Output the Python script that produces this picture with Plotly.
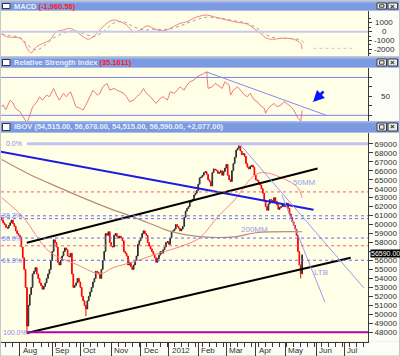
import plotly.graph_objects as go

W, H = 400, 356
def px(x): return x / W
def py(y): return 1 - y / H

# ---------------- data ----------------
CLOSE = [
    60500, 60200, 60000, 59700, 59600, 59900, 60200, 60500, 60100, 59800,
    59300, 59000, 58800, 58600, 57500, 56300, 55000, 53000, 48700, 51000,
    52200, 53000, 54500, 54800, 55200, 54500, 54000, 53500, 53200, 52800,
    53100, 53500, 54000, 54500, 55000, 56000, 57000, 58300, 58000, 57500,
    55800, 55500, 56000, 56500, 57000, 57400, 57200, 56500, 56400, 56800,
    54500, 53000, 53200, 53500, 54000, 53600, 53000, 52000, 51500, 51000,
    50600, 51500, 52000, 52500, 53000, 53600, 54000, 54800, 54700, 54500,
    54000, 55000, 56000, 57000, 59000, 58800, 59200, 58000, 57600, 57500,
    58800, 59000, 58700, 58500, 58700, 58500, 58200, 57000, 56800, 56500,
    55500, 55800, 55300, 55000, 55500, 56000, 56500, 57800, 58200, 58500,
    59000, 59300, 59000, 58800, 58000, 57600, 57300, 57000, 56700, 56300,
    55800, 56200, 56600, 57000, 56800, 57200, 57500, 58000, 58100, 57800,
    58500, 59200, 59300, 59500, 60000, 59800, 59600, 59300, 59500, 59800,
    60800, 61500, 61800, 62000, 62500, 62600, 62800, 63300, 63500, 63800,
    64500, 65200, 65300, 65500, 65800, 65900, 65600, 65000, 64800, 64300,
    65800, 66200, 66100, 66000, 65700, 65800, 66000, 65500, 65900, 66300,
    66700, 65500, 65000, 64800, 66000, 66800, 67500, 68300, 68500, 68700,
    68200, 67800, 67900, 67600, 66800, 66400, 66200, 66500, 66600, 66400,
    65500, 65000, 64900, 64700, 64400, 64000, 63500, 62600, 62000, 61600,
    62300, 62800, 62700, 62500, 63000, 62600, 62200, 61700, 61900, 62000,
    62300, 62000, 62100, 62400, 61800, 61200, 60800, 60300, 59900, 59500,
    58800, 57000, 55500, 54515, 56590,
]
FIRST_OPEN = 60800
WICK_HIGH = {169: 68970, 214: 56678}
WICK_LOW = {18: 48000, 60: 49800, 213: 54000}

MA50_DAY = [0, 15, 34, 54, 70, 79, 94, 113, 127, 141, 154, 166, 179, 186, 199, 211, 214]
MA50_VAL = [63000, 60880, 56970, 55520, 54510, 55180, 55850, 56860, 57530, 58530,
            60880, 62780, 65350, 65800, 65240, 64120, 63000]
MA200_DAY = [0, 20, 41, 61, 77, 91, 106, 119, 143, 166, 181, 214]
MA200_VAL = [67250, 65580, 64120, 62780, 61780, 61000, 60100, 59300, 58640, 58640, 59090, 59200]

MACD_DAY = [0, 3.4, 8, 13, 16.4, 18.8, 21, 24.8, 29.5, 34.3, 39, 43.8, 48.6, 53.4, 58, 61.6,
            65.2, 70, 74.8, 79.5, 84.3, 89, 93.8, 98.6, 103.4, 108, 112.9, 117.6, 122.4, 127,
            132, 136.6, 141.4, 146.2, 151, 155.7, 160.5, 165.2, 170, 174.8, 179.5, 184.3, 189,
            193.8, 198.6, 203.4, 208, 212.9, 214]
MACD_VAL = [-180, -570, -640, -750, -1320, -2080, -2390, -1700, -1320, -940, 0, 190, 390, 0,
            -570, -860, -570, 190, 950, 1330, 1140, 760, 0, 190, 650, 390, 110, 190, 570, 950,
            1140, 1520, 1780, 1900, 1700, 1520, 1330, 1140, 1020, 875, 390, -180, -750, -860,
            -750, -750, -860, -1320, -1961]
SIG_DAY = [0, 5.7, 12.9, 20, 24.8, 29.5, 36.7, 43.8, 51, 58, 65.2, 72.4, 79.5, 86.6, 93.8,
           101, 108, 117.6, 127, 136.6, 146, 155.7, 165.2, 174.8, 182, 189, 196, 203.4, 212.9, 215]
SIG_VAL = [-300, -450, -650, -1700, -2080, -1700, -750, -180, 110, -180, -570, 0, 950, 1140,
           570, 190, 270, 270, 650, 1250, 1640, 1520, 1250, 950, 390, -375, -750, -750, -940, -1250]
SIG_PROJ_DAY = [222, 252]
SIG_PROJ_VAL = [-1890, -1890]

RSI_DAY = [0, 1, 3, 6, 8, 10, 13, 15, 18, 20, 22, 25, 27, 29, 32, 34, 37, 39, 41, 44, 46, 49,
           51, 53, 56, 58, 60, 63, 65, 68, 70, 72, 75, 77, 80, 82, 84, 87, 89, 91, 94, 96, 99,
           101, 103, 106, 108, 110, 113, 115, 118, 120, 123, 125, 127, 130, 132, 134, 137, 139,
           141, 144, 146, 147, 150, 152, 154, 157, 159, 162, 163, 165, 168, 170, 173, 175, 177,
           180, 182, 184, 187, 188, 189, 191, 194, 196, 199, 201, 203, 206, 208, 210, 211, 213, 214]
RSI_VAL = [39, 41, 36, 46, 43, 37, 34, 28.5, 22, 30, 39, 44, 49.6, 46, 51.4, 49.6, 58.4, 51.4,
           46, 53.2, 49.6, 54.9, 46, 39, 37.3, 35.6, 40.8, 49.6, 56.6, 51.4, 53.2, 60.1, 63.7,
           56.6, 58.4, 56.6, 54.9, 53.2, 49.6, 44.3, 46, 49.6, 53.2, 58.4, 53.2, 49.6, 46, 42.6,
           47.9, 49.6, 46, 54.9, 53.2, 56.6, 60.1, 56.6, 61.9, 65.4, 67.2, 70.6, 72.4, 74.2, 75.9,
           58.4, 60.1, 63.7, 61.9, 58.4, 65.4, 61.9, 51.4, 56.6, 60.1, 56.6, 51.4, 49.6, 53.2, 46,
           44.3, 40.8, 37.3, 32.1, 35.6, 39.1, 42.6, 39.1, 40.8, 44.3, 42.6, 39.1, 35.6, 30.3, 27,
           24, 35.2]
RSI_TREND_DAY = [145.7, 230.7]
RSI_TREND_VAL = [75.9, 30.3]
RSI_LEVELS = [70, 30]

BLUE_DAY, BLUE_VAL = [-1.4, 222.1], [68140, 61660]
CH_UP_DAY, CH_UP_VAL = [17.9, 225], [57970, 66240]
CH_LO_DAY, CH_LO_VAL = [17.9, 248.6], [47920, 56300]
LTB1_DAY, LTB1_VAL = [169.3, 257.9], [69030, 52950]
LTB2_DAY, LTB2_VAL = [199.5, 230.2], [63300, 51380]

FIB_LEVELS = [60978, 58500, 56022]
FIB_TOP = 69000
FIB_BOTTOM = 48000
FIB_START = 17.9
FIB_LABEL_VAL = [69000, 60978, 58500, 56022, 48000]
FIB_LABEL_TXT = ["0.0%", "38.2%", "50.0%", "61.8%", "100.0%"]
EXTRA_BLUE_DOT = [60660]
RED_DASH = [63640, 57640]

MONTH_DAY = [13, 36, 56, 78, 99, 119, 140, 160, 181, 202, 224, 244]
MONTH_LABEL = ["Aug", "Sep", "Oct", "Nov", "Dec", "2012", "Feb", "Mar", "Apr", "May", "Jun", "Jul"]
PRICE_TICKS = list(range(48000, 70000, 1000))
HIDDEN_TICK = 57000          # covered by the last-price box in the picture
MACD_TICKS = [1000, 0, -1000, -2000]
LAST_PRICE = 56590

# ---------------- build ----------------
DAYS = list(range(len(CLOSE)))
OPEN = [FIRST_OPEN] + CLOSE[:-1]
HIGH = [WICK_HIGH.get(i, max(o, c)) for i, (o, c) in enumerate(zip(OPEN, CLOSE))]
LOW = [WICK_LOW.get(i, min(o, c)) for i, (o, c) in enumerate(zip(OPEN, CLOSE))]
PRICE_TEXT = ["" if v == HIDDEN_TICK else str(v) for v in PRICE_TICKS]

XR = [-0.5, 260.93]
FONT = "Liberation Sans, Arial, sans-serif"
AX = "#3a3a3a"
LAV = "#8a8af0"

fig = go.Figure()

def line(x, y, color, width, xa="x", ya="y", dash=None, shape="linear"):
    fig.add_trace(go.Scatter(x=x, y=y, mode="lines", xaxis=xa, yaxis=ya, hoverinfo="skip",
                             line=dict(color=color, width=width, dash=dash, shape=shape)))

# price panel
line(MA200_DAY, MA200_VAL, "#b98a7e", 1.2, shape="spline")
line(MA50_DAY, MA50_VAL, "#f08888", 1, shape="spline")
fig.add_trace(go.Candlestick(
    x=DAYS, open=OPEN, high=HIGH, low=LOW, close=CLOSE, xaxis="x", yaxis="y",
    increasing=dict(line=dict(color="#2a2a2a", width=1), fillcolor="#c0c0c0"),
    decreasing=dict(line=dict(color="#ff0000", width=1), fillcolor="#ff0000"),
    hoverinfo="skip", whiskerwidth=0))
line(BLUE_DAY, BLUE_VAL, "#1a1ae6", 2)
line(CH_UP_DAY, CH_UP_VAL, "#000000", 2)
line(CH_LO_DAY, CH_LO_VAL, "#000000", 2)
line(LTB1_DAY, LTB1_VAL, "#9a9af2", 1)
line(LTB2_DAY, LTB2_VAL, "#9a9af2", 1)
line([FIB_START, XR[1]], [FIB_TOP, FIB_TOP], "#c4c4f2", 3)
line([FIB_START, XR[1]], [FIB_BOTTOM, FIB_BOTTOM], "#b000b0", 2)

# RSI panel
line(RSI_DAY, RSI_VAL, "#f07a7a", 1, xa="x2", ya="y2")
line(RSI_TREND_DAY, RSI_TREND_VAL, "#8a8af0", 1, xa="x2", ya="y2")

# MACD panel
line(SIG_DAY, SIG_VAL, "#a0a0a0", 1, xa="x3", ya="y3", dash="dot", shape="spline")
line(SIG_PROJ_DAY, SIG_PROJ_VAL, "#c8c8c8", 1, xa="x3", ya="y3", dash="dot")
line(MACD_DAY, MACD_VAL, "#f08484", 1, xa="x3", ya="y3", shape="spline")

shapes = []
def rect(x0, y0, x1, y1, fill, lc=None, lw=0, layer="below"):
    shapes.append(dict(type="rect", xref="paper", yref="paper", x0=px(x0), x1=px(x1),
                       y0=py(y1), y1=py(y0), fillcolor=fill, layer=layer,
                       line=dict(color=lc or fill, width=lw)))

CREAM = "#fffee6"
AXBG = "#fdfdf8"
rect(1, 10.5, 368, 56, CREAM)
rect(1, 67.5, 368, 121, CREAM)
rect(1, 132.5, 368, 341.5, CREAM)
rect(368, 10.5, 399, 56, AXBG)
rect(368, 67.5, 399, 121, AXBG)
rect(368, 132.5, 399, 341.5, AXBG)
rect(1, 341.5, 399, 355.5, AXBG)

BARS = [(1.5, 10.5, "MACD", "(-1,960.56)"),
        (57.5, 67.5, "Relative Strength Index", "(35.1611)"),
        (121.5, 132.5, "IBOV (54,515.00, 56,678.00, 54,515.00, 56,590.00, +2,077.00)", "")]
annotations = []
for (t, b, name, val) in BARS:
    rect(1, t, 399, b, "#7c9ae2", layer="above")
    rect(1, t, 399, t + 1, "#a8bff0", layer="above")
    rect(2.5, t + 2, 10, b - 2, "#ffffff", "#33334d", 1, layer="above")
    rect(377, t + 1.5, 386.5, b - 1.5, "#ececec", "#3c3c3c", 1, layer="above")
    rect(379.5, t + 3.3, 384, b - 3.3, "#ececec", "#3c3c3c", 1, layer="above")
    rect(388, t + 1.5, 397.5, b - 1.5, "#ececec", "#3c3c3c", 1, layer="above")
    yc = py((t + b) / 2)
    annotations.append(dict(x=px(392.8), y=yc, xref="paper", yref="paper", text="<b>×</b>",
                            showarrow=False, font=dict(size=8, color="#202020", family=FONT),
                            xanchor="center", yanchor="middle"))
    html = "<b>" + name + (" <span style='color:#ff1a1a'>" + val + "</span>" if val else "") + "</b>"
    annotations.append(dict(x=px(12), y=yc, xref="paper", yref="paper", text=html,
                            showarrow=False, xanchor="left", yanchor="middle",
                            font=dict(size=7.5, color="#e8ecfa", family=FONT)))

def hline(v, color, width, dash, ya="y", xa="x"):
    shapes.append(dict(type="line", xref=xa + " domain", yref=ya, x0=0, x1=1, y0=v, y1=v,
                       line=dict(color=color, width=width, dash=dash), layer="above"))
for v in RED_DASH:
    hline(v, "#f06060", 1, "dot")
for v in FIB_LEVELS + EXTRA_BLUE_DOT:
    hline(v, "#6a6af0", 1, "dot")
for v in RSI_LEVELS:
    hline(v, "#8080e6", 1, None, ya="y2", xa="x2")
hline(0, "#c8c8f4", 2, None, ya="y3", xa="x3")

for v, t in zip(FIB_LABEL_VAL, FIB_LABEL_TXT):
    if len(t) > 5:
        pos = dict(x=px(1), xanchor="left")
    else:
        pos = dict(x=px(23.5), xanchor="right")
    annotations.append(dict(y=v, xref="paper", yref="y", text=t, showarrow=False,
                            yanchor="middle", font=dict(size=7, color=LAV, family=FONT), **pos))

for d, t in zip(MONTH_DAY, MONTH_LABEL):
    annotations.append(dict(x=d, y=py(350.5), xref="x", yref="paper", text=t, showarrow=False,
                            xanchor="left", yanchor="middle", xshift=1,
                            font=dict(size=8, color="#303030", family=FONT)))

for v in MACD_TICKS:
    annotations.append(dict(x=px(384), y=v, xref="paper", yref="y3", text=str(v), showarrow=False,
                            xanchor="center", yanchor="middle",
                            font=dict(size=8, color="#303030", family=FONT)))
annotations.append(dict(x=px(385.5), y=50, xref="paper", yref="y2", text="50", showarrow=False,
                        xanchor="center", yanchor="middle",
                        font=dict(size=8, color="#303030", family=FONT)))

annotations.append(dict(x=px(385), y=LAST_PRICE, xref="paper", yref="y", text="56590.00",
                        showarrow=False, xanchor="center", yanchor="middle", bgcolor="#000000",
                        borderpad=0, yshift=1.5, font=dict(size=7, color="#ffffff", family=FONT)))

for txt, x, y in [("50MM", 304, 182), ("200MM", 255, 229), ("LTB", 321, 272)]:
    annotations.append(dict(x=px(x), y=py(y), xref="paper", yref="paper", text=txt,
                            showarrow=False, xanchor="center", yanchor="middle",
                            font=dict(size=8, color="#9a9aee", family=FONT)))

annotations.append(dict(x=px(313), y=py(102), xref="paper", yref="paper", text="",
                        showarrow=True, ax=12, ay=-12, arrowhead=2, arrowsize=0.9,
                        arrowwidth=2.5, arrowcolor="#0a14ff"))

axis_common = dict(showgrid=False, zeroline=False, fixedrange=True)
fig.update_layout(
    width=W, height=H, margin=dict(l=0, r=0, t=0, b=0),
    paper_bgcolor="#c8c8c8", plot_bgcolor="rgba(0,0,0,0)", showlegend=False,
    xaxis=dict(domain=[px(1), px(368)], range=XR, anchor="y", rangeslider=dict(visible=False),
               tickvals=MONTH_DAY, ticks="outside", ticklen=13, tickcolor=AX, showticklabels=False,
               showline=True, linecolor=AX, linewidth=1,
               minor=dict(tickvals=list(range(3, 260, 5)), ticks="outside", ticklen=4, tickcolor=AX),
               **axis_common),
    yaxis=dict(domain=[py(341.5), py(132.5)], range=[46971, 70262], anchor="x", side="right",
               tickvals=PRICE_TICKS, ticktext=PRICE_TEXT, ticks="outside", ticklen=4, tickcolor=AX,
               showline=True, linecolor=AX, linewidth=1,
               tickfont=dict(size=8, color="#303030", family=FONT), **axis_common),
    xaxis2=dict(domain=[px(1), px(368)], range=XR, anchor="y2", visible=False, **axis_common),
    yaxis2=dict(domain=[py(121), py(67.5)], range=[24.0, 80.5], anchor="x2", side="right",
                tickvals=[30, 40, 50, 60, 70], ticks="outside", ticklen=3, tickcolor=AX,
                showticklabels=False, showline=True, linecolor=AX, **axis_common),
    xaxis3=dict(domain=[px(1), px(368)], range=XR, anchor="y3", visible=False, **axis_common),
    yaxis3=dict(domain=[py(56), py(10.5)], range=[-2761, 2410], anchor="x3", side="right",
                tickvals=MACD_TICKS, ticks="outside", ticklen=3, tickcolor=AX,
                minor=dict(tickvals=[1500, 500, -500, -1500, -2500], ticks="outside", ticklen=2, tickcolor=AX),
                showticklabels=False, showline=True, linecolor=AX, **axis_common),
    shapes=shapes, annotations=annotations,
)

fig.write_html("out.html", config={"displayModeBar": False},
               post_script="document.body.style.margin='0';document.body.style.overflow='hidden';")
